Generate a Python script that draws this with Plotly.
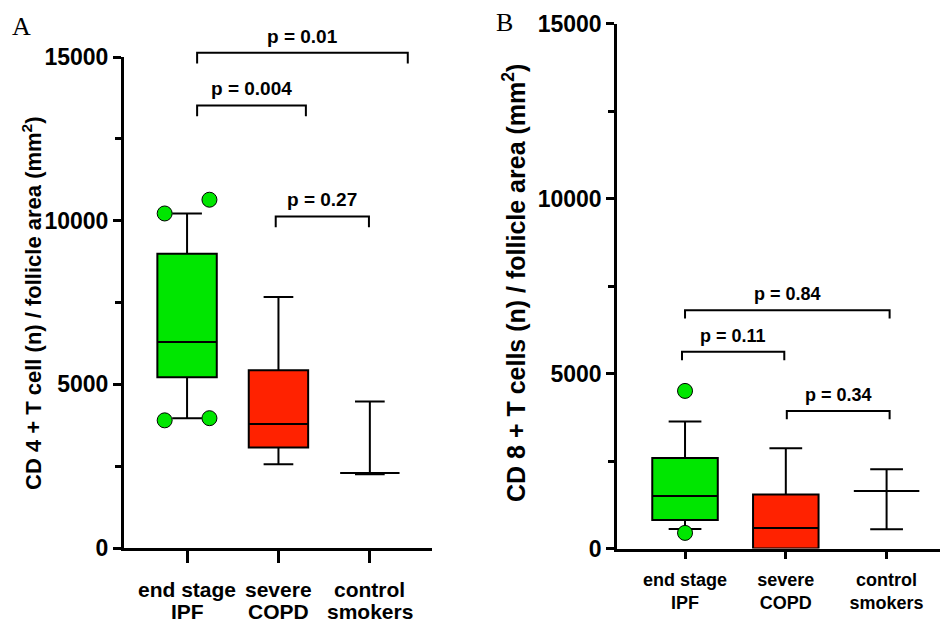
import plotly.graph_objects as go

# ---------------- data ----------------
category_lines = [("end stage", "IPF"), ("severe", "COPD"), ("control", "smokers")]
categories = ["<br>".join(c) for c in category_lines]
box_colors = ["#00E600", "#FF2200", "rgba(0,0,0,0)"]
y_ticks = [0, 5000, 10000, 15000]
y_tick_labels = ["0", "5000", "10000", "15000"]

# Panel A: CD4+ T cells per follicle area
cd4_q1 = [5220, 3067, 2290]
cd4_median = [6290, 3792, 2290]
cd4_q3 = [8990, 5434, 2290]
cd4_low = [3966, 2560, 2250]
cd4_high = [10220, 7667, 4474]
cd4_outliers = [[3900, 3966, 10220, 10640], [], []]

# Panel B: CD8+ T cells per follicle area
cd8_q1 = [817, 0, 1646]
cd8_median = [1503, 589, 1646]
cd8_q3 = [2589, 1543, 1646]
cd8_low = [560, 0, 551]
cd8_high = [3629, 2866, 2266]
cd8_outliers = [[446, 4503], [], []]

# significance brackets: (left x, right x, bar height, label)
cd4_brackets = [
    (0.11, 2.415, 15130, "p = 0.01"),
    (0.11, 1.30, 13520, "p = 0.004"),
    (0.97, 1.99, 10130, "p = 0.27"),
]
cd8_brackets = [
    (0.0, 2.03, 6810, "p = 0.84"),
    (-0.03, 0.985, 5620, "p = 0.11"),
    (1.01, 2.03, 3930, "p = 0.34"),
]

FONT = "Liberation Sans, Arial, sans-serif"
SERIF = "Liberation Serif, Times New Roman, serif"
W, H = 944, 626
Y_MAX = 15000

# subplot domains (paper fractions)
dom_x_a = [124 / W, 432 / W]
dom_y_a = [1 - 548 / H, 1 - 57 / H]
dom_x_b = [617 / W, 940 / W]
dom_y_b = [1 - 548.5 / H, 1 - 23.5 / H]

fig = go.Figure()


def spread(values, gap):
    """Horizontal offsets so neighbouring points that would overlap sit side by side."""
    vals = sorted(values)
    offs = [0.0] * len(vals)
    i = 0
    while i < len(vals):
        if i + 1 < len(vals) and vals[i + 1] - vals[i] < gap:
            offs[i], offs[i + 1] = -0.245, 0.245
            i += 2
        else:
            i += 1
    return vals, offs


def add_panel(xa, ya, ydom, q1, med, q3, lo, hi, outs, brackets, drop, gap, pfont):
    for i in range(len(categories)):
        fig.add_trace(go.Box(
            x=[i], q1=[q1[i]], median=[med[i]], q3=[q3[i]],
            lowerfence=[lo[i]], upperfence=[hi[i]],
            width=0.65, whiskerwidth=0.5, boxpoints=False,
            fillcolor=box_colors[i], line=dict(color="black", width=2),
            xaxis=xa, yaxis=ya, showlegend=False, hoverinfo="skip",
        ))
        if outs[i]:
            vals, offs = spread(outs[i], gap)
            fig.add_trace(go.Scatter(
                x=[i + o for o in offs], y=vals, mode="markers", cliponaxis=False,
                marker=dict(size=15, color=box_colors[i],
                            line=dict(color="black", width=1)),
                xaxis=xa, yaxis=ya, showlegend=False, hoverinfo="skip",
            ))

    # brackets may sit above the top of the value axis, so they are placed in
    # paper space along y (linear mapping of the 0..Y_MAX axis onto its domain)
    def to_paper(v):
        return ydom[0] + v / Y_MAX * (ydom[1] - ydom[0])

    for x0, x1, h, label in brackets:
        path = "M {x0} {y0} L {x0} {y1} L {x1} {y1} L {x1} {y0}".format(
            x0=x0, x1=x1, y0=to_paper(h - drop), y1=to_paper(h))
        fig.add_shape(type="path", path=path, xref=xa, yref="paper",
                      line=dict(color="black", width=2))
        fig.add_annotation(
            x=(x0 + x1) / 2, y=to_paper(h), xref=xa, yref="paper", text=label,
            showarrow=False, xanchor="center", yanchor="bottom", yshift=4,
            font=dict(family=FONT, size=pfont, color="black", weight="bold"),
        )


add_panel("x", "y", dom_y_a, cd4_q1, cd4_median, cd4_q3, cd4_low, cd4_high,
          cd4_outliers, cd4_brackets, 330, 700, 19)
add_panel("x2", "y2", dom_y_b, cd8_q1, cd8_median, cd8_q3, cd8_low, cd8_high,
          cd8_outliers, cd8_brackets, 240, 700, 18)


def yaxis_cfg(domain, lw, font_size, anchor):
    return dict(
        domain=domain, range=[0, Y_MAX], tickvals=y_ticks, ticktext=y_tick_labels,
        showline=True, linecolor="black", linewidth=lw, showgrid=False,
        zeroline=False, ticks="outside", ticklen=8, tickwidth=lw,
        tickcolor="black", anchor=anchor, automargin=False,
        minor=dict(dtick=2500, tick0=0, ticks="outside", ticklen=6,
                   tickwidth=lw, tickcolor="black", showgrid=False),
        tickfont=dict(family=FONT, size=font_size, color="black", weight="bold"),
        fixedrange=True,
    )


def xaxis_cfg(domain, rng, lw, font_size, ticklen, standoff, anchor, show_labels):
    return dict(
        domain=domain, range=rng, tickvals=[0, 1, 2], ticktext=categories,
        showticklabels=show_labels,
        showline=True, linecolor="black", linewidth=lw, showgrid=False,
        zeroline=False, ticks="outside", ticklen=ticklen, tickwidth=lw,
        tickcolor="black", ticklabelstandoff=standoff, anchor=anchor,
        automargin=False,
        tickfont=dict(family=FONT, size=font_size, color="black", weight="bold"),
        fixedrange=True,
    )


fig.update_layout(
    width=W, height=H, autosize=False,
    margin=dict(l=0, r=0, t=0, b=0, pad=0),
    paper_bgcolor="white", plot_bgcolor="white", boxmode="overlay",
    xaxis=xaxis_cfg(dom_x_a, [-0.69, 2.68], 3, 21, 12, 11, "y", False),
    yaxis=yaxis_cfg(dom_y_a, 3, 23, "x"),
    xaxis2=xaxis_cfg(dom_x_b, [-0.675, 2.53], 2.5, 18, 8, 5, "y2", True),
    yaxis2=yaxis_cfg(dom_y_b, 2.5, 23, "x2"),
)

# panel A category names, one line at a time (tighter line spacing)
for i, (top, bottom) in enumerate(category_lines):
    for text, ypx in ((top, 589), (bottom, 611)):
        fig.add_annotation(
            x=i, y=1 - ypx / H, xref="x", yref="paper", text=text,
            showarrow=False, xanchor="center", yanchor="middle",
            font=dict(family=FONT, size=21, color="black", weight="bold"),
        )

# axis titles
fig.add_annotation(
    x=32 / W, y=1 - 303 / H, xref="paper", yref="paper", textangle=-90,
    xanchor="center", yanchor="middle",
    text="CD 4 + T cell (n) / follicle area (mm<sup>2</sup>)", showarrow=False,
    font=dict(family=FONT, size=22, color="black", weight="bold"),
)
fig.add_annotation(
    x=514 / W, y=1 - 283 / H, xref="paper", yref="paper", textangle=-90,
    xanchor="center", yanchor="middle",
    text="CD 8 + T cells (n) / follicle area (mm<sup>2</sup>)", showarrow=False,
    font=dict(family=FONT, size=25, color="black", weight="bold"),
)

# panel letters
fig.add_annotation(x=10 / W, y=1 - 27 / H, xref="paper", yref="paper",
                   text="A", showarrow=False, xanchor="left", yanchor="middle",
                   font=dict(family=SERIF, size=26, color="black"))
fig.add_annotation(x=494 / W, y=1 - 23 / H, xref="paper", yref="paper",
                   text="B", showarrow=False, xanchor="left", yanchor="middle",
                   font=dict(family=SERIF, size=26, color="black"))

fig.write_html("out.html")
